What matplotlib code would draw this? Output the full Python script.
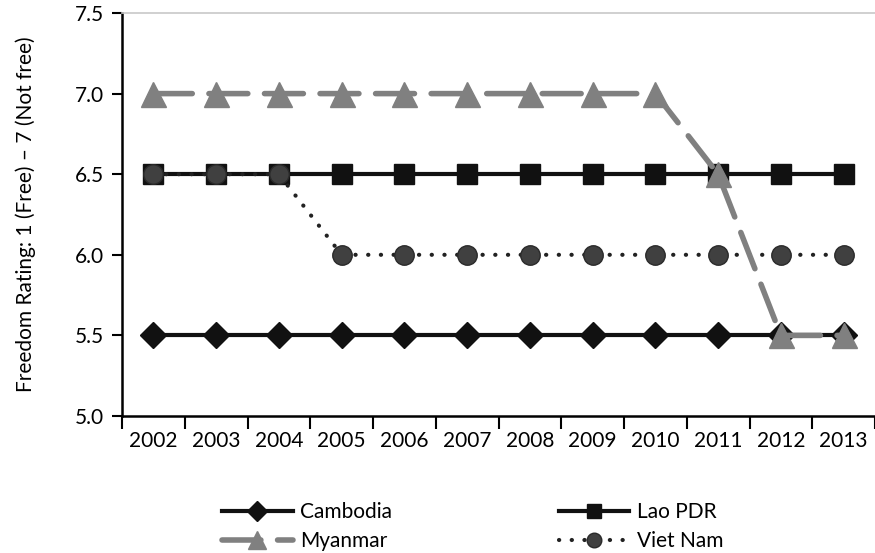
import matplotlib
matplotlib.use("Agg")
import matplotlib.pyplot as plt
import numpy as np

years = ["2002", "2003", "2004", "2005", "2006", "2007", "2008", "2009", "2010", "2011", "2012", "2013"]
cambodia = [5.5, 5.5, 5.5, 5.5, 5.5, 5.5, 5.5, 5.5, 5.5, 5.5, 5.5, 5.5]
lao = [6.5, 6.5, 6.5, 6.5, 6.5, 6.5, 6.5, 6.5, 6.5, 6.5, 6.5, 6.5]
myanmar = [7.0, 7.0, 7.0, 7.0, 7.0, 7.0, 7.0, 7.0, 7.0, 6.5, 5.5, 5.5]
vietnam = [6.5, 6.5, 6.5, 6.0, 6.0, 6.0, 6.0, 6.0, 6.0, 6.0, 6.0, 6.0]

plt.rcParams['font.family'] = ['Lato', 'DejaVu Sans']
FS = 15

fig = plt.figure(figsize=(8.75, 5.53), dpi=100)
ax = fig.add_axes([122 / 875, 1 - 416 / 553, 1 - 122 / 875, (416 - 13) / 553])

x = np.arange(len(years))

ax.plot(x, cambodia, color='#111111', lw=3, marker='D', ms=13, label='Cambodia', zorder=3)
ax.plot(x, lao, color='#111111', lw=3, marker='s', ms=14, label='Lao PDR', zorder=3)
ax.plot(x, myanmar, color='#808080', lw=4, ls=(0, (7, 3)), dash_capstyle='round',
        marker='^', ms=18, label='Myanmar', zorder=5)
ax.plot(x, vietnam, color='#222222', lw=3, ls=(0, (0.05, 3)), dash_capstyle='round',
        marker='o', ms=14, mfc='#404040', mec='#2a2a2a', mew=1.0, label='Viet Nam', zorder=4)

ax.set_xlim(-0.5, len(years) - 0.5)
ax.set_ylim(5.0, 7.5)
ax.set_yticks([5.0, 5.5, 6.0, 6.5, 7.0, 7.5])
ax.set_yticklabels(['5.0', '5.5', '6.0', '6.5', '7.0', '7.5'], fontsize=FS)
ax.set_xticks(x)
ax.set_xticklabels(years, fontsize=FS)
ax.set_xticks(np.arange(len(years) + 1) - 0.5, minor=True)
ax.tick_params(axis='x', which='major', length=0, pad=11)
ax.tick_params(axis='x', which='minor', length=9, width=1.5, color='black', direction='out')
ax.tick_params(axis='y', length=7, width=1.5, direction='out', pad=6)

ax.spines['right'].set_visible(False)
ax.spines['top'].set_color('#c8c8c8')
ax.spines['top'].set_linewidth(1.2)
ax.spines['left'].set_linewidth(1.8)
ax.spines['bottom'].set_linewidth(1.8)

ax.set_ylabel('Freedom Rating: 1 (Free) – 7 (Not free)', fontsize=FS, labelpad=28)

h, l = ax.get_legend_handles_labels()
order = [0, 2, 1, 3]
fig.legend([h[i] for i in order], [l[i] for i in order], ncol=2, frameon=False,
           loc='lower center', bbox_to_anchor=(0.54, -0.03), fontsize=FS,
           handlelength=3.4, columnspacing=8.0, labelspacing=0.42, handletextpad=0.35,
           markerscale=0.75)

fig.savefig('out.png', dpi=100)
